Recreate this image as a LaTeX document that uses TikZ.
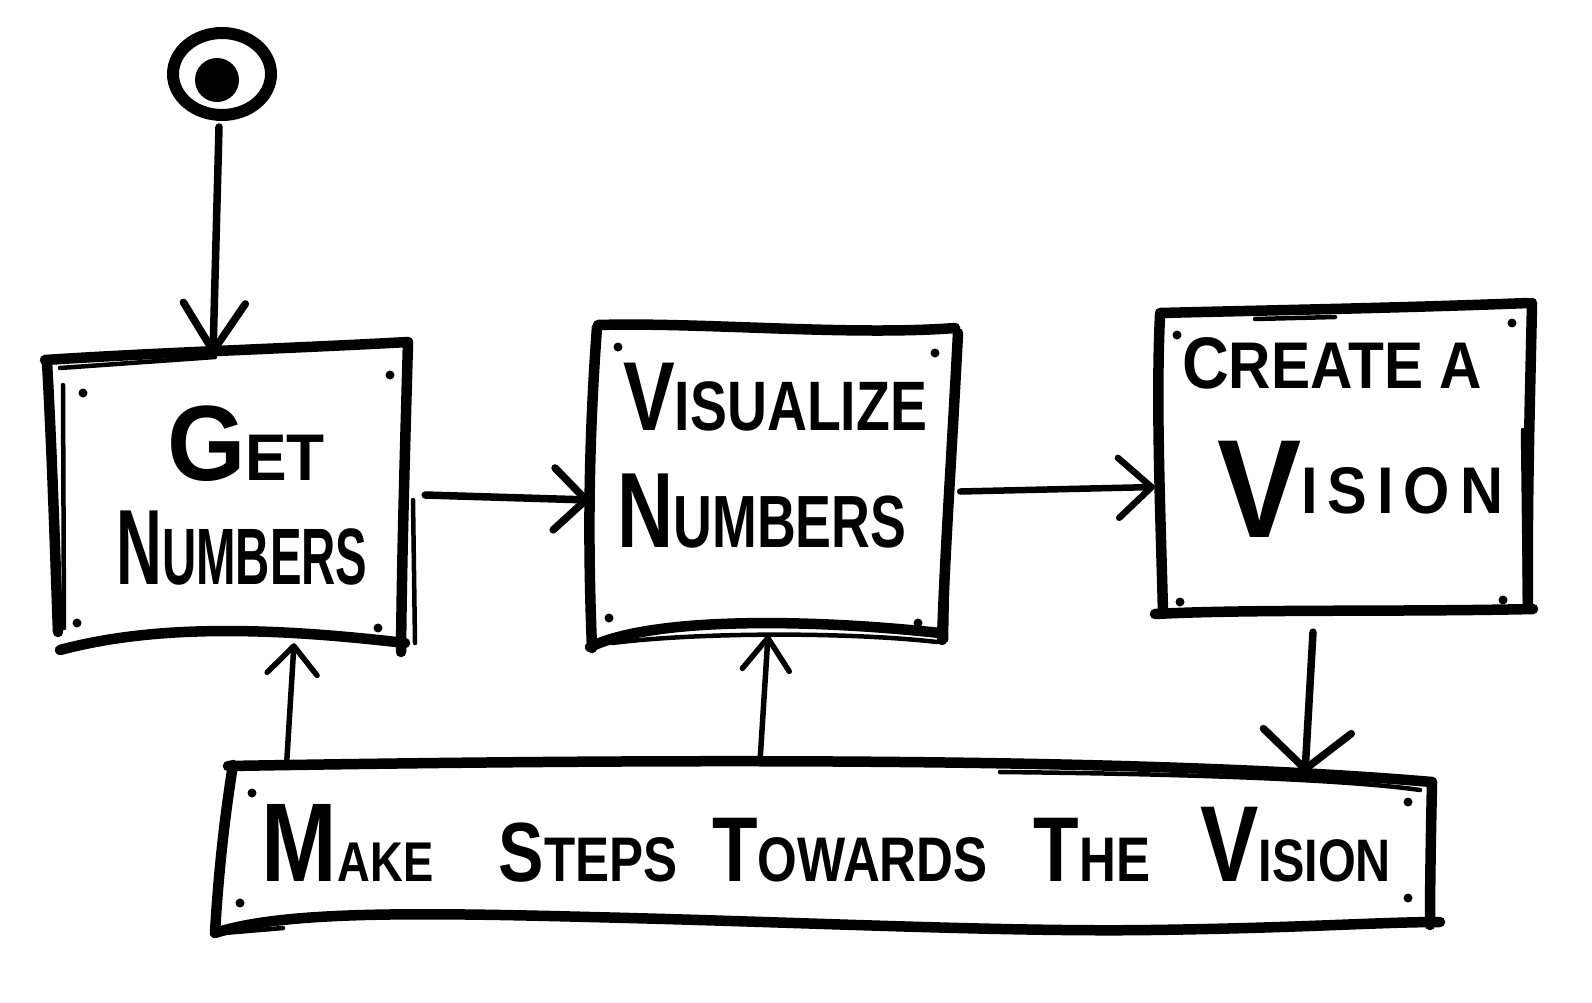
\documentclass[tikz,border=0pt]{standalone}
\usepackage{fontspec}
\setmainfont{Liberation Sans}
\usepackage{graphicx}
\usetikzlibrary{arrows.meta,calc,shapes.geometric}
\newcommand\fsz[1]{\fontsize{#1}{#1}\selectfont}
\newcommand\hw[2]{\resizebox{#1}{\height}{\bfseries #2}}
\begin{document}
\begin{tikzpicture}[x=1pt,y=-1pt,
  boxnode/.style={draw=none,rectangle,inner sep=0pt},
  boxln/.style={line width=10.5pt,line cap=round,line join=round},
  boxthin/.style={line width=4.5pt,line cap=round},
  txt/.style={inner sep=0pt,anchor=base},
  dotr/.style={fill=black}]
\fill[white] (0,0) rectangle (1592,1002);
\useasboundingbox (0,0) rectangle (1592,1002);

% ---------- nodes ----------
\node[ellipse,draw,line width=12pt,minimum width=98pt,minimum height=82pt,inner sep=0pt] (s) at (222,74) {};
\node[circle,fill=black,minimum size=44pt,inner sep=0pt] (sdot) at (217,80) {};

\node[boxnode,minimum width=360pt,minimum height=288pt] (b1) at (231,501) {};
\node[boxnode,minimum width=365pt,minimum height=315pt] (b2) at (774.5,484.5) {};
\node[boxnode,minimum width=376pt,minimum height=301pt] (b3) at (1345,463.5) {};
\node[boxnode,minimum width=1222pt,minimum height=163pt] (b4) at (826,850.5) {};

% ---------- box outlines ----------
% box 1
\draw[boxln] (45,360) .. controls (150,353) and (300,348) .. (408,342);
\draw[boxthin] (60,368) -- (215,357);
\draw[boxln] (47,362) .. controls (52,450) and (55,550) .. (58,632);
\draw[boxthin] (63,385) -- (64,628);
\draw[boxln] (408,342) .. controls (405,450) and (402,550) .. (401,652);
\draw[boxthin] (413,500) -- (415,643);
\draw[boxln] (60,650) .. controls (150,626) and (260,626) .. (405,643);
% box 2
\draw[boxln] (598,325) .. controls (700,322) and (850,336) .. (955,328);
\draw[boxln] (597,327) .. controls (588,450) and (588,550) .. (592,648);
\draw[boxln] (958,333) .. controls (952,450) and (945,550) .. (942,640);
\draw[boxthin] (948,520) -- (946,640);
\draw[boxln] (590,647) .. controls (650,618) and (800,618) .. (940,633);
\draw[boxthin] (612,643) .. controls (700,632) and (850,632) .. (937,642);
% box 3
\draw[boxln] (1160,313) .. controls (1280,310) and (1400,308) .. (1528,303);
\draw[boxthin] (1255,319) -- (1335,317);
\draw[boxln] (1160,315) .. controls (1156,400) and (1160,500) .. (1163,612);
\draw[boxln] (1532,303) .. controls (1530,400) and (1527,500) .. (1528,607);
\draw[boxthin] (1523,430) -- (1525,600);
\draw[boxln] (1155,614) .. controls (1250,609) and (1400,612) .. (1533,609);
% box 4
\draw[boxln] (228,766) .. controls (700,758) and (1150,758) .. (1432,782);
\draw[boxthin] (1000,772) .. controls (1200,774) and (1350,780) .. (1420,790);
\draw[boxln] (233,765) .. controls (224,820) and (218,880) .. (215,933);
\draw[boxln] (1432,782) .. controls (1431,830) and (1430,880) .. (1430,925);
\draw[boxln] (215,933) .. controls (280,912) and (400,912) .. (590,917)
  .. controls (800,922) and (1000,932) .. (1150,930)
  .. controls (1300,928) and (1380,922) .. (1440,922);
\draw[boxthin] (212,934) -- (283,928);

% ---------- corner dots ----------
\foreach \p in {(83,393),(390,375),(77,623),(378,628),
                (618,347),(935,353),(609,618),(918,623),
                (1177,335),(1512,323),(1180,602),(1503,600),
                (252,793),(240,903),(1408,802),(1408,898)}
  \fill[dotr] \p circle (4.5);

% ---------- texts ----------
\node[txt] (t1a) at (246,480) {\hw{158pt}{\fsz{107}G\fsz{66}ET}};
\node[txt] (t1b) at (242,584) {\hw{251pt}{\fsz{107}N\fsz{80}UMBERS}};
\node[txt] (t2a) at (775,430) {\hw{304pt}{\fsz{98}V\fsz{70}ISUALIZE}};
\node[txt] (t2b) at (762,547) {\hw{289pt}{\fsz{107}N\fsz{74}UMBERS}};
\node[txt] (t3a) at (1332,388) {\hw{300pt}{\fsz{73}C\fsz{66}REATE A}};
\node[txt] (t3b) at (1360,513) {\hw{286pt}{\raisebox{-24pt}{\fsz{140}V}\fsz{66}I\,S\,I\,O\,N}};
\node[txt] (t4) at (826.5,881) {\hw{1129pt}{\fsz{112}M\fsz{56}AKE\hspace{81pt}\fsz{84}S\fsz{63}TEPS\hspace{43pt}\fsz{92}T\fsz{63}OWARDS\hspace{57pt}\fsz{92}T\fsz{63}HE\hspace{62pt}\fsz{108}V\fsz{60}ISION}};

% ---------- connectors ----------
\draw[line width=7.5pt,line cap=round,-{Straight Barb[round,length=48pt,width=62pt]}]
  ($(s.south)+(-3,6)$) -- ($(b1.north)+(-18,-2)$);
\draw[line width=7.5pt,line cap=round,-{Straight Barb[round,length=32pt,width=62pt]}]
  ($(b1.east)+(14,-6)$) -- ($(b2.west)+(-2,15.5)$);
\draw[line width=6.5pt,line cap=round,-{Straight Barb[round,length=33pt,width=60pt]}]
  ($(b2.east)+(3,7)$) -- ($(b3.west)+(-2,23.5)$);
\draw[line width=7.5pt,line cap=round,-{Straight Barb[round,length=38pt,width=88pt]}]
  ($(b3.south)+(-32,18)$) -- ($(b4.north)+(479,4)$);
\draw[line width=5.5pt,line cap=round,-{Straight Barb[round,length=28pt,width=50pt]}]
  ($(b4.north west)+(72,-8)$) -- ($(b1.south)+(63,-2)$);
\draw[line width=5.5pt,line cap=round,-{Straight Barb[round,length=32pt,width=47pt]}]
  ($(b4.north)+(-66,-7)$) -- ($(b2.south)+(-6.5,-7)$);
\end{tikzpicture}
\end{document}
